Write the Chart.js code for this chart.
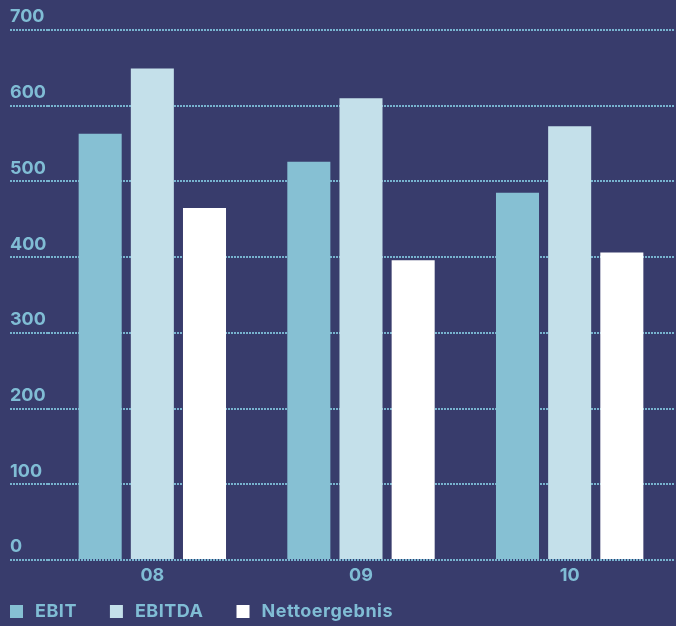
<!DOCTYPE html>
<html>
<head>
<meta charset="utf-8">
<script src="https://cdn.jsdelivr.net/npm/chart.js@4"></script>
<style>
  html, body { margin: 0; padding: 0; background: #383c6c; }
  #wrap { width: 676px; height: 626px; }
</style>
</head>
<body>
<div id="wrap"><canvas id="kennzahlen" width="676" height="626"></canvas></div>
<script>
// Data
const years = ['08', '09', '10'];
const ebit = [563, 526, 485];
const ebitda = [649, 610, 573];
const nettoergebnis = [465, 396, 406];
const yTicks = [0, 100, 200, 300, 400, 500, 600, 700];

const textColor = '#80bdd5';
const gridColor = '#78b3cf';
const font = { family: 'Inter', size: 18, weight: 'bold' };

// Legend drawn at the bottom left, spaced like the original
const bottomLegend = {
  id: 'bottomLegend',
  afterDraw(chart) {
    const ctx = chart.ctx;
    let x = 10;
    const y = 611;
    ctx.save();
    ctx.font = 'bold 18px Inter';
    ctx.letterSpacing = '0.5px';
    ctx.textBaseline = 'middle';
    chart.data.datasets.forEach(ds => {
      ctx.fillStyle = ds.backgroundColor;
      ctx.fillRect(x, y - 6, 13, 13);
      ctx.fillStyle = textColor;
      ctx.fillText(ds.label, x + 25, y + 1);
      x += 25 + ctx.measureText(ds.label).width + 33;
    });
    ctx.restore();
  }
};

const chartCanvas = document.getElementById('kennzahlen');

let kennzahlenChart = new Chart(chartCanvas, {
  type: 'bar',
  data: {
    labels: years,
    datasets: [{
      label: 'EBIT',
      data: ebit,
      backgroundColor: '#86c0d3'
    }, {
      label: 'EBITDA',
      data: ebitda,
      backgroundColor: '#c4e0ea'
    }, {
      label: 'Nettoergebnis',
      data: nettoergebnis,
      backgroundColor: '#ffffff'
    }]
  },
  options: {
    responsive: false,
    animation: false,
    categoryPercentage: 0.75,
    barPercentage: 0.825,
    layout: {
      padding: { top: 30, right: 2, bottom: 26, left: 0 }
    },
    plugins: {
      legend: { display: false },
      tooltip: { enabled: false }
    },
    scales: {
      x: {
        grid: { display: false, drawTicks: false },
        border: { display: false },
        ticks: { color: textColor, font: font, padding: 5 },
        afterFit: (scale) => { scale.height = 40; }
      },
      y: {
        min: 0,
        max: 700,
        afterBuildTicks: (scale) => {
          scale.ticks = yTicks.map(v => ({ value: v }));
        },
        grid: {
          color: gridColor,
          lineWidth: 2,
          drawTicks: true,
          tickLength: 38,
          tickColor: gridColor,
          tickWidth: 2,
          tickBorderDash: [2, 1]
        },
        border: { display: false, dash: [2, 1] },
        ticks: {
          color: textColor,
          font: font,
          mirror: true,
          crossAlign: 'near',
          padding: -38,
          labelOffset: -13
        },
        afterFit: (scale) => { scale.width = 48; }
      }
    }
  },
  plugins: [bottomLegend]
});
</script>
</body>
</html>
